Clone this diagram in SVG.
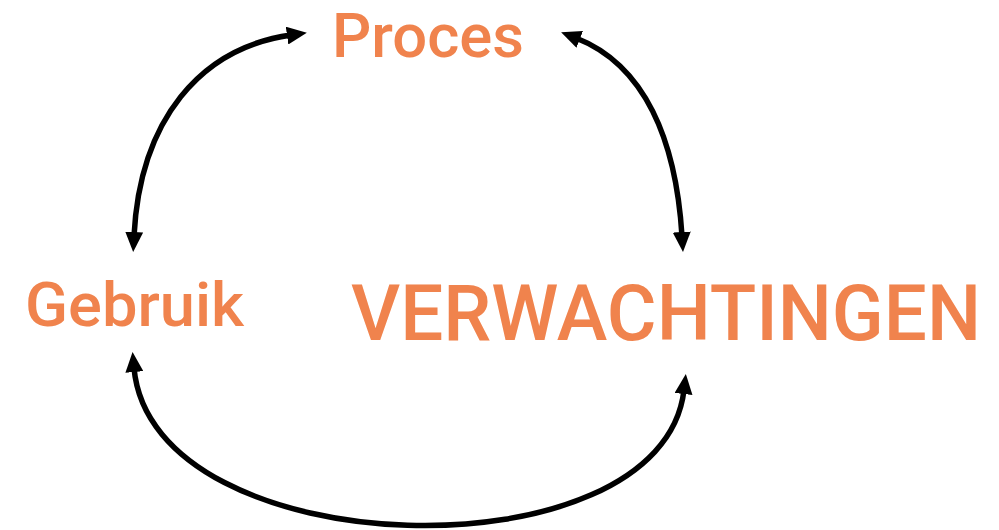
<svg xmlns="http://www.w3.org/2000/svg" width="999" height="530" viewBox="0 0 999 530">
<style>
.lbl{fill:#F0834D;font-family:Roboto,"DejaVu Sans Condensed",sans-serif;font-weight:500;}
.con{fill:none;stroke:#000;stroke-width:5.5;}
</style>
<defs>
<marker id="ah" markerUnits="userSpaceOnUse" markerWidth="20" markerHeight="18" refX="4" refY="9" orient="auto-start-reverse" viewBox="0 0 20 18">
<path d="M0,0 L20,9 L0,18 z" fill="#000"/>
</marker>
</defs>
<rect width="999" height="530" fill="#fff"/>
<g id="connectors">
<path class="con" d="M134 236 C140 120 200 48 291 35" marker-start="url(#ah)" marker-end="url(#ah)"/>
<path class="con" d="M576 38 C645 65 676 140 682 236" marker-start="url(#ah)" marker-end="url(#ah)"/>
<path class="con" d="M134 368 C152 568 662 580 684 390" marker-start="url(#ah)" marker-end="url(#ah)"/>
</g>
<g id="proces"><text class="lbl" x="332" y="57" font-size="62" textLength="192" lengthAdjust="spacingAndGlyphs">Proces</text></g>
<g id="gebruik"><text class="lbl" x="25" y="326" font-size="61" textLength="219" lengthAdjust="spacingAndGlyphs">Gebruik</text></g>
<g id="verwachtingen"><text class="lbl" x="351" y="340" font-size="78" textLength="630" lengthAdjust="spacingAndGlyphs">VERWACHTINGEN</text></g>
</svg>
